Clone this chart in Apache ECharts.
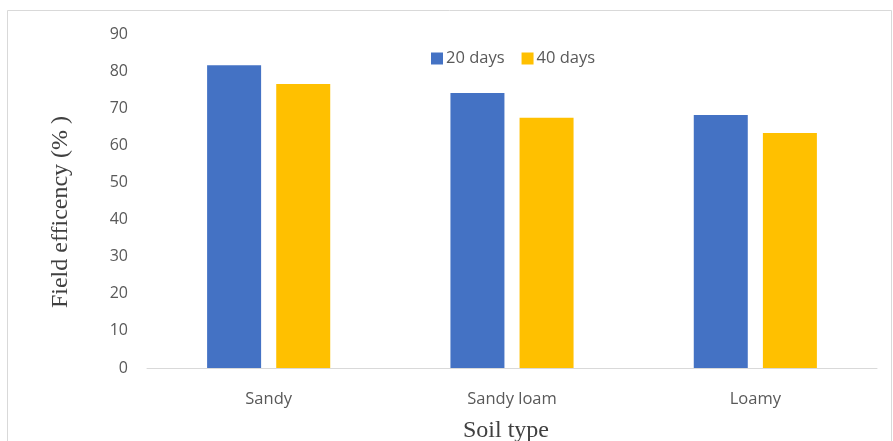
<!DOCTYPE html>
<html>
<head>
<meta charset="utf-8">
<script src="https://cdn.jsdelivr.net/npm/echarts@6/dist/echarts.min.js"></script>
<style>
html,body{margin:0;padding:0;background:#fff;}
#chart{width:893px;height:441px;}
</style>
</head>
<body>
<div id="chart"></div>
<script>
const categories = ['Sandy', 'Sandy loam', 'Loamy'];
const days20 = [81.6, 74.1, 68.2];
const days40 = [76.5, 67.4, 63.3];
const seriesNames = ['20 days', '40 days'];
const yTicks = { min: 0, max: 90, interval: 10 };

const chart = echarts.init(document.getElementById('chart'));
chart.setOption({
  animation: false,
  backgroundColor: '#fff',
  graphic: [{
    type: 'rect',
    shape: { x: 7.5, y: 10.5, width: 884, height: 440 },
    style: { fill: 'none', stroke: '#d9d9d9', lineWidth: 1 },
    silent: true
  }],
  legend: {
    data: seriesNames,
    left: 426,
    top: 45,
    itemWidth: 12,
    itemHeight: 12,
    itemGap: 17,
    icon: 'rect',
    textStyle: { fontFamily: 'Open Sans', fontSize: 16.5, color: '#595959', padding: [0, 0, 0, -2] }
  },
  grid: { left: 147, right: 16, top: 34, bottom: 73, outerBoundsMode: 'none', containLabel: false },
  xAxis: {
    type: 'category',
    data: categories,
    name: 'Soil type',
    nameLocation: 'middle',
    nameGap: 51,
    nameTextStyle: { fontFamily: 'Liberation Serif', fontSize: 24, color: '#404040', padding: [0, 12, 0, 0] },
    axisLine: { lineStyle: { color: '#d9d9d9', width: 1 } },
    axisTick: { show: false },
    axisLabel: { margin: 23, fontFamily: 'Open Sans', fontSize: 16.5, color: '#595959' }
  },
  yAxis: {
    type: 'value',
    min: yTicks.min,
    max: yTicks.max,
    interval: yTicks.interval,
    name: 'Field efficency (% )',
    nameLocation: 'middle',
    nameGap: 74,
    nameTextStyle: { fontFamily: 'Liberation Serif', fontSize: 24, color: '#404040', padding: [0, 22, 0, 0] },
    axisLine: { show: false },
    axisTick: { show: false },
    splitLine: { show: false },
    axisLabel: { margin: 19, fontFamily: 'Open Sans', fontSize: 16, color: '#595959' }
  },
  series: [
    { name: seriesNames[0], type: 'bar', data: days20, barWidth: 54, barGap: '28%', itemStyle: { color: '#4472C4' } },
    { name: seriesNames[1], type: 'bar', data: days40, barWidth: 54, barGap: '28%', itemStyle: { color: '#FFC000' } }
  ]
});
</script>
</body>
</html>
